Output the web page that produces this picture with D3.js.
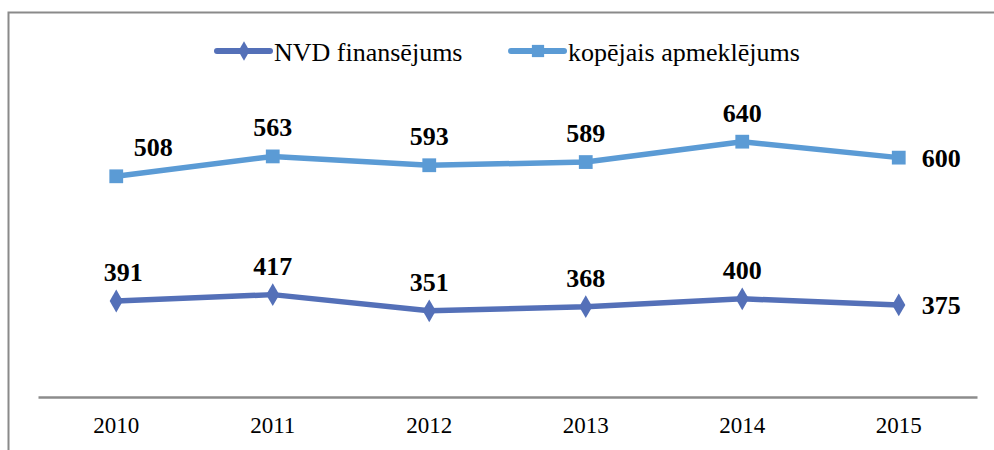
<!DOCTYPE html>
<html>
<head>
<meta charset="utf-8">
<script src="https://cdn.jsdelivr.net/npm/d3@7"></script>
<style>
  body { margin: 0; background: #fff; }
  svg { display: block; }
</style>
</head>
<body>
<svg id="chart" width="994" height="450"></svg>
<script>
// chart data
const years = ['2010', '2011', '2012', '2013', '2014', '2015'];
const nvdFunding = [391, 417, 351, 368, 400, 375];
const totalVisits = [508, 563, 593, 589, 640, 600];
const seriesNames = ['NVD finansējums', 'kopējais apmeklējums'];

const width = 994;
const height = 450;
const serif = '"Liberation Serif", "Times New Roman", serif';
const colors = ['#5470b8', '#5b9bd5'];

const svg = d3.select('#chart');

// outer frame (only left and top edges are visible)
svg.append('path')
    .attr('d', `M8.5,${height} V12.5 H${width}`)
    .attr('fill', 'none')
    .attr('stroke', '#8a8a8a')
    .attr('stroke-width', 2);

// stacked line chart: second series sits on top of the first
const rows = years.map((y, i) => ({ year: y, nvd: nvdFunding[i], total: totalVisits[i] }));
const stacked = d3.stack().keys(['nvd', 'total'])(rows);

const xScale = d3.scaleBand()
    .domain(years)
    .range([38, 977]);

const yScale = d3.scaleLinear()
    .domain([0, 1200])
    .range([397, 102.4]);

const cx = d => xScale(d.data.year) + xScale.bandwidth() / 2;

// x axis
const xAxis = svg.append('g')
    .attr('transform', `translate(0, ${yScale(0)})`)
    .call(d3.axisBottom(xScale).tickSize(0).tickPadding(20));
xAxis.attr('font-family', serif).attr('font-size', 23);
xAxis.select('.domain')
    .attr('stroke', '#8c8c8c')
    .attr('stroke-width', 2.5);
xAxis.selectAll('text')
    .style('font-family', serif)
    .style('font-size', '23px')
    .attr('fill', '#000');

const line = d3.line()
    .x(d => cx(d))
    .y(d => yScale(d[1]));

const diamond = d3.symbol().type(d3.symbolDiamond).size(150);
const square = d3.symbol().type(d3.symbolSquare).size(190);

stacked.forEach((layer, k) => {
    const g = svg.append('g');

    g.append('path')
        .datum(layer)
        .attr('d', line)
        .attr('fill', 'none')
        .attr('stroke', colors[k])
        .attr('stroke-width', 5.5)
        .attr('stroke-linejoin', 'round');

    g.selectAll('path.marker')
        .data(layer)
        .enter()
        .append('path')
        .attr('class', 'marker')
        .attr('d', k === 0 ? diamond : square)
        .attr('transform', d => `translate(${cx(d)}, ${yScale(d[1])})`)
        .attr('fill', colors[k]);

    // data labels show the series' own value
    const last = layer.length - 1;
    g.selectAll('text')
        .data(layer)
        .enter()
        .append('text')
        .attr('x', (d, i) => {
            if (i === last) return cx(d) + 23;
            if (i === 0) return cx(d) + (k === 1 ? 37 : 7);
            return cx(d);
        })
        .attr('y', (d, i) => i === last ? yScale(d[1]) + 9 : yScale(d[1]) - 20)
        .attr('text-anchor', (d, i) => i === last ? 'start' : 'middle')
        .style('font-family', serif)
        .style('font-size', '26px')
        .style('font-weight', 'bold')
        .attr('fill', '#000')
        .text(d => d[1] - d[0]);
});

// legend
const legendItems = [
    { name: seriesNames[0], x: 215, color: colors[0], sym: d3.symbol().type(d3.symbolDiamond).size(110) },
    { name: seriesNames[1], x: 509, color: colors[1], sym: d3.symbol().type(d3.symbolSquare).size(150) }
];
const legend = svg.append('g');
legendItems.forEach(item => {
    const lg = legend.append('g').attr('transform', `translate(${item.x}, 51)`);
    lg.append('line')
        .attr('x1', 2).attr('x2', 55)
        .attr('stroke', item.color)
        .attr('stroke-width', 6)
        .attr('stroke-linecap', 'round');
    lg.append('path')
        .attr('d', item.sym)
        .attr('transform', 'translate(29, 0)')
        .attr('fill', item.color);
    lg.append('text')
        .attr('x', 59)
        .attr('y', 10)
        .style('font-family', serif)
        .style('font-size', '26px')
        .attr('fill', '#000')
        .text(item.name);
});
</script>
</body>
</html>
